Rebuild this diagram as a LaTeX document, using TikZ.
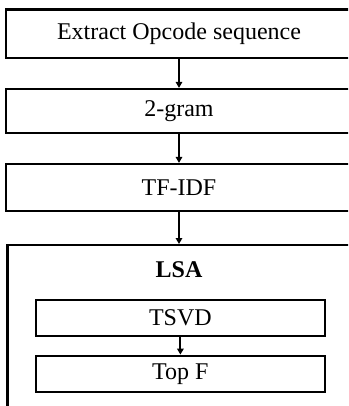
\documentclass[tikz,border=0pt]{standalone}
\usepackage{fontspec}
\setmainfont{Liberation Serif}
\usetikzlibrary{arrows.meta}
\begin{document}
\begin{tikzpicture}[x=1pt,y=-1pt,
  box/.style={draw=black,line width=2.2pt,rectangle,inner sep=0pt,
    font=\fontsize{24}{28}\selectfont},
  arr/.style={draw=black,line width=2pt,-{Triangle[length=6pt,width=6.5pt]}}]
\useasboundingbox (0,0) rectangle (348,406);
\clip (0,0) rectangle (348,406);
% pipeline steps
\node[box,minimum width=346pt,minimum height=48.5pt] (extract) at (179,33.75) {Extract Opcode sequence};
\node[box,minimum width=346pt,minimum height=44pt] (gram) at (179,111) {2-gram};
\node[box,minimum width=346pt,minimum height=47pt] (tfidf) at (179,187.5) {TF-IDF};
% LSA group, open at the bottom edge
\node[box,minimum width=343pt,minimum height=200pt,anchor=north] (lsa) at (179,244) {};
\node[font=\fontsize{24}{28}\selectfont\bfseries] (lsatitle) at (179,270) {LSA};
\node[box,minimum width=289.3pt,minimum height=35.7pt] (tsvd) at (180.4,317.85) {TSVD};
\node[box,minimum width=289.3pt,minimum height=36pt] (topf) at (180.4,373.7) {Top F};
% connectors
\draw[arr] (extract.south -| 179,0) -- (gram.north -| 179,0);
\draw[arr] (gram.south -| 179,0) -- (tfidf.north -| 179,0);
\draw[arr] (tfidf.south -| 179,0) -- (lsa.north -| 179,0);
\draw[arr] (tsvd.south) -- (topf.north);
\end{tikzpicture}
\end{document}
